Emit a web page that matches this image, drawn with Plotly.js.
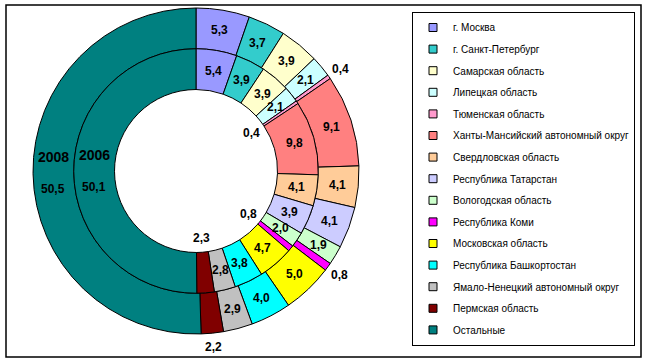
<!DOCTYPE html>
<html><head><meta charset="utf-8">
<script src="https://cdn.plot.ly/plotly-3.0.1.min.js"></script>
<style>html,body{margin:0;padding:0;background:#fff}#chart{width:648px;height:364px}</style>
</head><body><div id="chart"></div>
<script>
// ---- data ----
const regions = ['г. Москва','г. Санкт-Петербург','Самарская область','Липецкая область','Тюменская область','Ханты-Мансийский автономный округ','Свердловская область','Республика Татарстан','Вологодская область','Республика Коми','Московская область','Республика Башкортостан','Ямало-Ненецкий автономный округ','Пермская область','Остальные'];
const share2006 = [5.4,3.9,3.9,2.1,0.4,9.8,4.1,3.9,2.0,0.8,4.7,3.8,2.8,2.3,50.1];
const share2008 = [5.3,3.7,3.9,2.1,0.4,9.1,4.1,4.1,1.9,0.8,5.0,4.0,2.9,2.2,50.5];
const yearInner = '2006';
const yearOuter = '2008';

// ---- style ----
const colors = ['#9999FF','#33CCCC','#FFFFCC','#CCFFFF','#FF99CC','#FF8080','#FFCC99','#CCCCFF','#CCFFCC','#FF00FF','#FFFF00','#00FFFF','#C0C0C0','#800000','#008080'];
const outsideLabel = ['Тюменская область','Республика Коми','Пермская область'];
const yearLabelSlice = 'Остальные';
const W = 648, H = 364, cx = 196, cy = 171, R = 163;
const font = 'Liberation Sans, Arial, sans-serif';

function dom(r){ return {x:[(cx-r)/W,(cx+r)/W], y:[(H-cy-r)/H,(H-cy+r)/H]}; }
function fmt(v){ return v.toFixed(1).replace('.', ','); }

const traces = [
  {type:'pie', labels:regions, values:share2008, sort:false, direction:'clockwise', rotation:0,
   hole:0.75, domain:dom(R), marker:{colors:colors, line:{color:'#000', width:1}},
   textinfo:'none', hoverinfo:'label+value', showlegend:false, name:yearOuter},
  {type:'pie', labels:regions, values:share2006, sort:false, direction:'clockwise', rotation:0,
   hole:0.5/0.75, domain:dom(0.75*R), marker:{colors:colors, line:{color:'#000', width:1}},
   textinfo:'none', hoverinfo:'label+value', showlegend:false, name:yearInner}
];
regions.forEach((r,i)=>{
  traces.push({type:'scatter', x:[null], y:[null], mode:'markers', name:r, legendgroup:'g'+i,
    marker:{symbol:'square', size:8, color:colors[i], line:{color:'#000', width:1}}, hoverinfo:'skip'});
});

const annotations = [];
function ringLabels(vals, rIn, rOut, rOutside, year){
  const total = vals.reduce((a,b)=>a+b,0);
  let cum = 0;
  vals.forEach((v,i)=>{
    const f = (cum + v/2)/total; cum += v;
    const th = 2*Math.PI*f;
    const r = outsideLabel.includes(regions[i]) ? rOutside : (rIn+rOut)/2;
    const px = cx + r*Math.sin(th), py = cy - r*Math.cos(th);
    const base = {xref:'paper', yref:'paper', x:px/W, y:1-py/H, showarrow:false,
      xanchor:'center', yanchor:'middle', font:{family:font, size:12, color:'#000', weight:'bold'}};
    if (regions[i] === yearLabelSlice) {
      annotations.push(Object.assign({}, base, {text:year, yshift:16, font:{family:font, size:14, color:'#000', weight:'bold'}}));
      annotations.push(Object.assign({}, base, {text:fmt(v), yshift:-16}));
    } else {
      annotations.push(Object.assign({}, base, {text:fmt(v)}));
    }
  });
}
ringLabels(share2008, 0.75*R, R, R+14, yearOuter);
ringLabels(share2006, 0.5*R, 0.75*R, 0.5*R-14, yearInner);

const layout = {
  width:W, height:H, margin:{l:0,r:0,t:0,b:0}, paper_bgcolor:'#fff', plot_bgcolor:'#fff',
  xaxis:{visible:false}, yaxis:{visible:false},
  showlegend:true,
  legend:{x:412/W, xanchor:'left', y:1-12/H, yanchor:'top', bgcolor:'#fff', bordercolor:'#000', borderwidth:1,
    traceorder:'grouped', tracegroupgap:2.6, font:{family:font, size:10, color:'#000'}},
  annotations:annotations,
  shapes:[{type:'rect', xref:'paper', yref:'paper', x0:6/W, x1:641/W, y0:1-357/H, y1:1-5/H,
    line:{color:'#000', width:1.5}, fillcolor:'rgba(0,0,0,0)'}]
};
Plotly.newPlot('chart', traces, layout, {displayModeBar:false, staticPlot:true});
</script></body></html>
